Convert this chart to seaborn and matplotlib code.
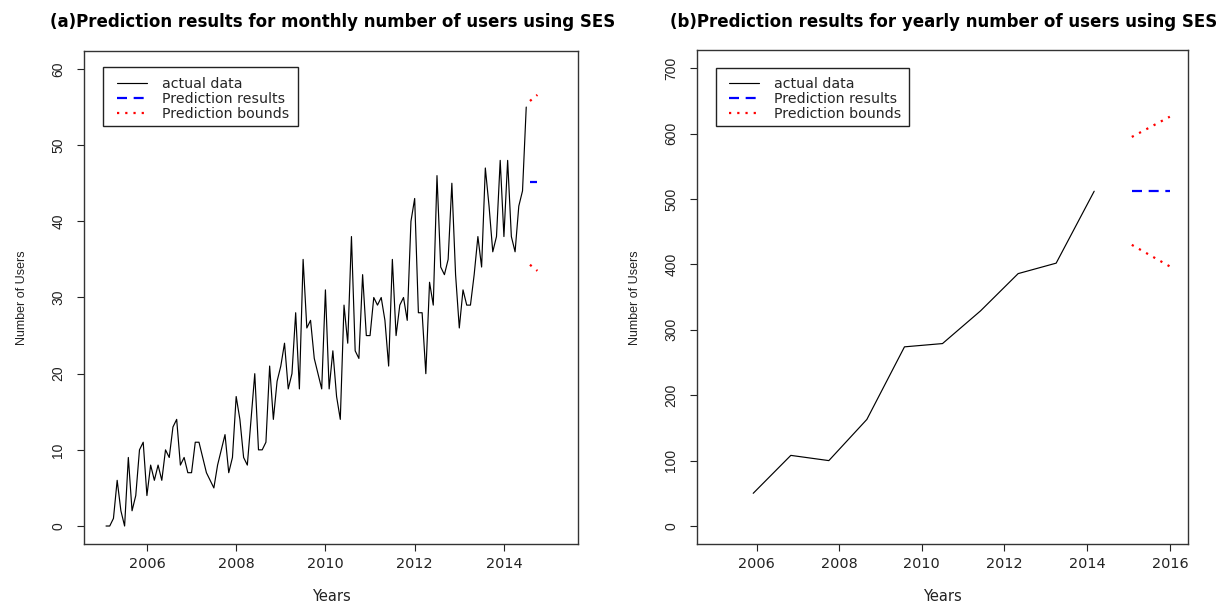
import numpy as np
import pandas as pd
import matplotlib
matplotlib.use('Agg')
import matplotlib.pyplot as plt
from matplotlib import font_manager
from matplotlib.patches import Rectangle
import seaborn as sns

# monthly number of users, Feb 2005 .. Jul 2014
monthly_start = '2005-02'
monthly_users = [0, 0, 1, 6, 2, 0, 9, 2, 4, 10, 11,
                 4, 8, 6, 8, 6, 10, 9, 13, 14, 8, 9, 7,
                 7, 11, 11, 9, 7, 6, 5, 8, 10, 12, 7, 9,
                 17, 14, 9, 8, 14, 20, 10, 10, 11, 21, 14, 19,
                 21, 24, 18, 20, 28, 18, 35, 26, 27, 22, 20, 18,
                 31, 18, 23, 17, 14, 29, 24, 38, 23, 22, 33, 25,
                 25, 30, 29, 30, 27, 21, 35, 25, 29, 30, 27, 40,
                 43, 28, 28, 20, 32, 29, 46, 34, 33, 35, 45, 33,
                 26, 31, 29, 29, 33, 38, 34, 47, 42, 36, 38, 48,
                 38, 48, 38, 36, 42, 44, 55]
# SES forecast, Aug .. Oct 2014
monthly_fc_start = '2014-08'
monthly_fc_mean = [45.1, 45.1, 45.1]
monthly_fc_upper = [55.8, 56.2, 56.6]
monthly_fc_lower = [34.3, 33.9, 33.5]

# yearly series (time as plotted)
yearly_time = [2005.92, 2006.83, 2007.75, 2008.67, 2009.58, 2010.5, 2011.42, 2012.33, 2013.25, 2014.17]
yearly_users = [50, 108, 100, 163, 274, 279, 329, 386, 402, 512]
yearly_fc_time = [2015.08, 2016.0]
yearly_fc_mean = [512, 512]
yearly_fc_upper = [595, 626]
yearly_fc_lower = [430, 397]

month_ticks = [2006, 2008, 2010, 2012, 2014]
year_ticks = [2006, 2008, 2010, 2012, 2014, 2016]
users_ticks_m = [0, 10, 20, 30, 40, 50, 60]
users_ticks_y = [0, 100, 200, 300, 400, 500, 600, 700]

legend_labels = ['actual data', 'Prediction results', 'Prediction bounds']
title_a = '(a)Prediction results for monthly number of users using SES'
title_b = '(b)Prediction results for yearly number of users using SES'


def dec_year(start, n):
    d = pd.date_range(start, periods=n, freq='MS')
    return (d.year + (d.month - 1) / 12.0).values


sns.set_theme(style='white')
plt.rcParams['font.family'] = ['DejaVu Sans']

# rotated texts look condensed in the original: use a narrow face if there is one
installed = {f.name for f in font_manager.fontManager.ttflist}
if 'Liberation Sans Narrow' in installed:
    rot_family, ytick_size, ylab_size = 'Liberation Sans Narrow', 12, 11
else:
    rot_family, ytick_size, ylab_size = 'Liberation Sans', 10, 9

W, H = 1220, 603
fig = plt.figure(figsize=(W / 100, H / 100), dpi=100)


def px_axes(x0, y0, x1, y1):
    return fig.add_axes([x0 / W, 1 - y1 / H, (x1 - x0) / W, (y1 - y0) / H])


def draw(ax, t, y, ft, fmean, fup, flo):
    sns.lineplot(x=t, y=y, ax=ax, color='black', lw=0.85, label=legend_labels[0])
    sns.lineplot(x=ft, y=fmean, ax=ax, color='#0000ff', lw=1.6,
                 linestyle=(0, (4.5, 3)), label=legend_labels[1])
    sns.lineplot(x=ft, y=fup, ax=ax, color='#ff0000', lw=1.6,
                 linestyle=(0, (1, 2.7)), label=legend_labels[2])
    sns.lineplot(x=ft, y=flo, ax=ax, color='#ff0000', lw=1.6,
                 linestyle=(0, (1, 2.7)))


def style(ax, xticks, yticks):
    ax.set_xticks(xticks, labels=[str(v) for v in xticks], fontsize=10.4)
    ax.set_yticks(yticks, labels=[str(v) for v in yticks], rotation=90,
                  va='center', fontfamily=rot_family, fontsize=ytick_size)
    ax.tick_params(axis='x', bottom=True, direction='out', length=5, width=0.8,
                   pad=4, colors='#222')
    ax.tick_params(axis='y', left=True, direction='out', length=5, width=0.8,
                   pad=8.5, colors='#222')
    ax.set_xlabel('')
    ax.set_ylabel('')
    for sp in ax.spines.values():
        sp.set_color('#333')
        sp.set_linewidth(1.0)


def add_legend(ax, hx, ty, box):
    h, l = ax.get_legend_handles_labels()
    ax.legend(h[:3], l[:3], loc='upper left', bbox_to_anchor=(hx / W, 1 - ty / H),
              bbox_transform=fig.transFigure, frameon=False, borderpad=0,
              borderaxespad=0, handlelength=2.1, handletextpad=1.1,
              labelspacing=0.08, fontsize=10.2)
    x0, y0, x1, y1 = box
    fig.add_artist(Rectangle((x0 / W, 1 - y1 / H), (x1 - x0) / W, (y1 - y0) / H,
                             transform=fig.transFigure, fill=False,
                             ec='#222', lw=1.0))


# (a) monthly
ax1 = px_axes(84, 50.7, 578, 544.3)
draw(ax1, dec_year(monthly_start, len(monthly_users)), monthly_users,
     dec_year(monthly_fc_start, len(monthly_fc_mean)),
     monthly_fc_mean, monthly_fc_upper, monthly_fc_lower)
ax1.set_xlim(2004.59, 2015.66)
ax1.set_ylim(-2.4, 62.4)
style(ax1, month_ticks, users_ticks_m)
add_legend(ax1, 117, 76.5, (103, 67.3, 298, 126))

# (b) yearly
ax2 = px_axes(697, 50, 1188, 544.3)
draw(ax2, yearly_time, yearly_users, yearly_fc_time,
     yearly_fc_mean, yearly_fc_upper, yearly_fc_lower)
ax2.set_xlim(2004.56, 2016.44)
ax2.set_ylim(-28, 728)
style(ax2, year_ticks, users_ticks_y)
add_legend(ax2, 729, 76.5, (716, 67.7, 909, 126))

# titles and axis labels
fig.text(332.5 / W, 1 - 26.7 / H, title_a, ha='center', va='baseline',
         fontsize=12, fontweight='bold', color='black')
fig.text(943.5 / W, 1 - 26.7 / H, title_b, ha='center', va='baseline',
         fontsize=12, fontweight='bold', color='black')
for cx in (331, 942.5):
    fig.text(cx / W, 1 - 600.7 / H, 'Years', ha='center', va='baseline',
             fontsize=10.5, color='#222')
for bx in (25, 638):
    fig.text(bx / W, 1 - 297.5 / H, 'Number of Users', rotation=90,
             rotation_mode='anchor', ha='center', va='baseline',
             fontsize=ylab_size, family=rot_family, color='#222')

fig.savefig('out.png', dpi=100)
